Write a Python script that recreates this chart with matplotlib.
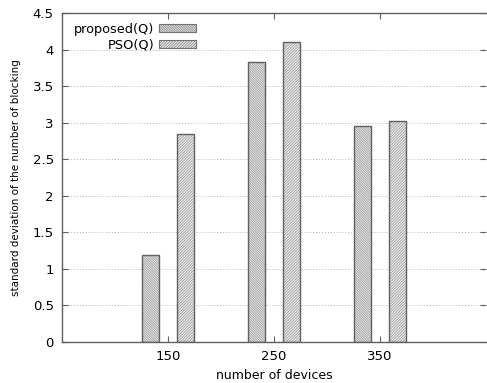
import matplotlib
matplotlib.use("Agg")
import matplotlib.pyplot as plt
import numpy as np
from matplotlib.patches import Patch

devices = [150, 250, 350]
proposed = [1.19, 3.83, 2.95]
pso = [2.85, 4.11, 3.02]
series_names = ["proposed(Q)", "PSO(Q)"]
yticks = [0, 0.5, 1, 1.5, 2, 2.5, 3, 3.5, 4, 4.5]

plt.rcParams['font.family'] = ['DejaVu Sans']
plt.rcParams['hatch.linewidth'] = 0.5

fig = plt.figure(figsize=(4.87, 3.83), dpi=100)
ax = fig.add_axes([62/487, 41/383, (486-62)/487, (342-13)/383])

x = np.array(devices, dtype=float)
w = 16
off = 16.5
hatch_col = '#8a8a8a'
edge_col = '#606060'
h1 = '\\' * 14
h2 = '/' * 12
for vals, dx, h in [(proposed, -off, h1), (pso, off, h2)]:
    ax.bar(x + dx, vals, width=w, color='#f0f0f0', hatch=h, edgecolor=hatch_col, linewidth=0, zorder=2)
    ax.bar(x + dx, vals, width=w, fill=False, edgecolor=edge_col, linewidth=1.0, zorder=3)

ax.set_xlim(50, 450)
ax.set_ylim(0, 4.5)
ax.set_xticks(devices)
ax.set_yticks(yticks)
ax.set_yticklabels([f"{v:g}" for v in yticks])
ax.tick_params(direction='in', length=4, width=0.8, color='#606060', labelsize=9.5,
               top=True, right=True, pad=6)
ax.yaxis.grid(True, linestyle=(0, (1, 2)), color='#b0b0b0', linewidth=0.7)
ax.set_axisbelow(True)
for s in ax.spines.values():
    s.set_color('#606060')
    s.set_linewidth(1.0)
ax.spines['right'].set_visible(False)

ax.set_xlabel("number of devices", fontsize=9, labelpad=4)
ax.set_ylabel("standard deviation of the number of blocking", fontsize=7.5, labelpad=8)

handles = []
for h in [h1, h2]:
    handles.append(Patch(facecolor='#f0f0f0', hatch=h, edgecolor='#707070', linewidth=0.8))
leg = ax.legend(handles, series_names, loc='upper left', bbox_to_anchor=(0.005, 1.0),
                markerfirst=False, frameon=False, fontsize=9.3, handlelength=2.8,
                handleheight=0.6, labelspacing=0.25, handletextpad=0.4,
                borderaxespad=0.35)
for t in leg.get_texts():
    t.set_ha('right')
leg._legend_box.align = "right"

fig.savefig("out.png", dpi=100)
